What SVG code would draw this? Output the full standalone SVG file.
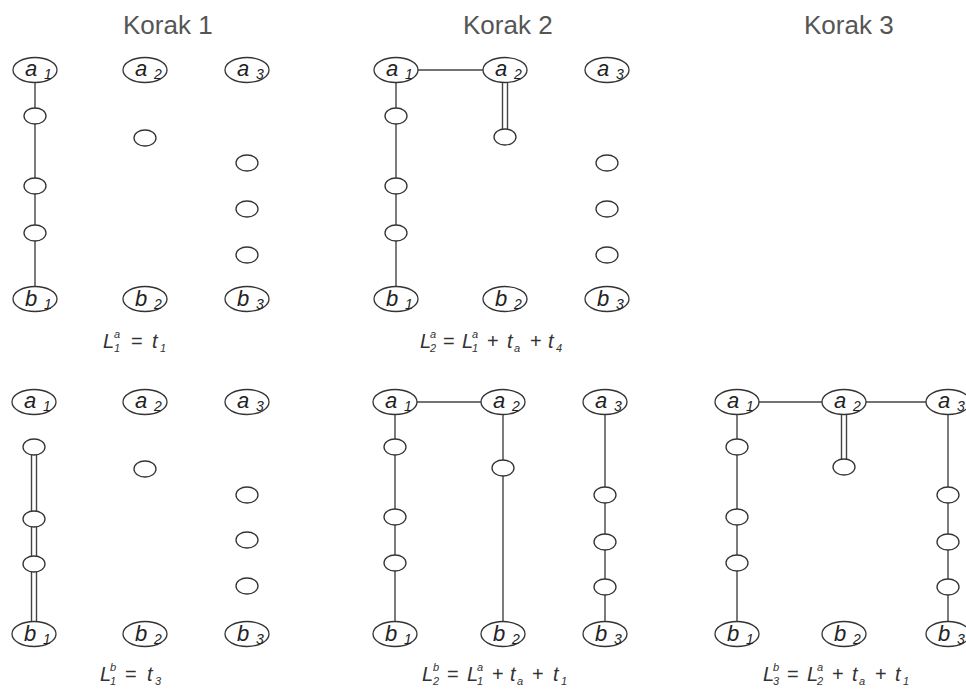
<svg xmlns="http://www.w3.org/2000/svg" width="966" height="689" viewBox="0 0 966 689">
<style>
.n{fill:#fff;stroke:#333;stroke-width:1.3}
.s{fill:#fff;stroke:#333;stroke-width:1.3}
.e{stroke:#444;stroke-width:1.4;fill:none}
.lbl{font-family:"Liberation Sans",Arial,sans-serif;font-style:italic;font-size:22px;fill:#222}
.sub{font-size:14px}
.title{font-family:"Liberation Sans",Arial,sans-serif;font-size:26px;fill:#555}
.f{font-family:"Liberation Sans",Arial,sans-serif;font-style:italic;font-size:20px;fill:#333}
.fs{font-size:11px}
.op{font-style:normal}
</style>
<rect width="966" height="689" fill="#fff"/>
<g id="titles">
<text class="title" x="123" y="34">Korak 1</text>
<text class="title" x="463" y="34">Korak 2</text>
<text class="title" x="804" y="34">Korak 3</text>
</g>
<g id="connectors">
<line class="e" x1="35" y1="82" x2="35" y2="287"/>
<line class="e" x1="418" y1="70" x2="483" y2="70"/>
<line class="e" x1="396" y1="82" x2="396" y2="287"/>
<line class="e" x1="502.5" y1="82" x2="502.5" y2="130"/>
<line class="e" x1="507.5" y1="82" x2="507.5" y2="130"/>
<line class="e" x1="31.5" y1="447" x2="31.5" y2="622"/>
<line class="e" x1="36.5" y1="447" x2="36.5" y2="622"/>
<line class="e" x1="417" y1="402" x2="481" y2="402"/>
<line class="e" x1="395" y1="414" x2="395" y2="622"/>
<line class="e" x1="503" y1="414" x2="503" y2="622"/>
<line class="e" x1="605" y1="414" x2="605" y2="622"/>
<line class="e" x1="759" y1="402" x2="822" y2="402"/>
<line class="e" x1="866" y1="402" x2="926" y2="402"/>
<line class="e" x1="737" y1="414" x2="737" y2="622"/>
<line class="e" x1="841.5" y1="414" x2="841.5" y2="460"/>
<line class="e" x1="846.5" y1="414" x2="846.5" y2="460"/>
<line class="e" x1="948" y1="414" x2="948" y2="622"/>
</g>
<!-- Panel top 1 -->
<g id="t1-a1"><ellipse class="n" cx="35" cy="70" rx="22" ry="12.5"/><text class="lbl" x="25" y="76">a<tspan class="sub" x="44" y="79">1</tspan></text></g>
<g id="t1-a2"><ellipse class="n" cx="145" cy="70" rx="22" ry="12.5"/><text class="lbl" x="135" y="76">a<tspan class="sub" x="154" y="79">2</tspan></text></g>
<g id="t1-a3"><ellipse class="n" cx="247" cy="70" rx="22" ry="12.5"/><text class="lbl" x="237" y="76">a<tspan class="sub" x="256" y="79">3</tspan></text></g>
<g id="t1-b1"><ellipse class="n" cx="35" cy="299" rx="22" ry="12.5"/><text class="lbl" x="25" y="306">b<tspan class="sub" x="44" y="309">1</tspan></text></g>
<g id="t1-b2"><ellipse class="n" cx="145" cy="299" rx="22" ry="12.5"/><text class="lbl" x="135" y="306">b<tspan class="sub" x="154" y="309">2</tspan></text></g>
<g id="t1-b3"><ellipse class="n" cx="247" cy="299" rx="22" ry="12.5"/><text class="lbl" x="237" y="306">b<tspan class="sub" x="256" y="309">3</tspan></text></g>
<g id="t1-s1"><ellipse class="s" cx="35" cy="116" rx="11" ry="8"/></g>
<g id="t1-s2"><ellipse class="s" cx="35" cy="186" rx="11" ry="8"/></g>
<g id="t1-s3"><ellipse class="s" cx="35" cy="233" rx="11" ry="8"/></g>
<g id="t1-s4"><ellipse class="s" cx="145" cy="138" rx="11" ry="8"/></g>
<g id="t1-s5"><ellipse class="s" cx="247" cy="163" rx="11" ry="8"/></g>
<g id="t1-s6"><ellipse class="s" cx="247" cy="209" rx="11" ry="8"/></g>
<g id="t1-s7"><ellipse class="s" cx="247" cy="255" rx="11" ry="8"/></g>
<!-- Panel top 2 -->
<g id="t2-a1"><ellipse class="n" cx="396" cy="70" rx="22" ry="12.5"/><text class="lbl" x="386" y="76">a<tspan class="sub" x="405" y="79">1</tspan></text></g>
<g id="t2-a2"><ellipse class="n" cx="505" cy="70" rx="22" ry="12.5"/><text class="lbl" x="495" y="76">a<tspan class="sub" x="514" y="79">2</tspan></text></g>
<g id="t2-a3"><ellipse class="n" cx="607" cy="70" rx="22" ry="12.5"/><text class="lbl" x="597" y="76">a<tspan class="sub" x="616" y="79">3</tspan></text></g>
<g id="t2-b1"><ellipse class="n" cx="396" cy="299" rx="22" ry="12.5"/><text class="lbl" x="386" y="306">b<tspan class="sub" x="405" y="309">1</tspan></text></g>
<g id="t2-b2"><ellipse class="n" cx="505" cy="299" rx="22" ry="12.5"/><text class="lbl" x="495" y="306">b<tspan class="sub" x="514" y="309">2</tspan></text></g>
<g id="t2-b3"><ellipse class="n" cx="607" cy="299" rx="22" ry="12.5"/><text class="lbl" x="597" y="306">b<tspan class="sub" x="616" y="309">3</tspan></text></g>
<g id="t2-s1"><ellipse class="s" cx="396" cy="116" rx="11" ry="8"/></g>
<g id="t2-s2"><ellipse class="s" cx="396" cy="186" rx="11" ry="8"/></g>
<g id="t2-s3"><ellipse class="s" cx="396" cy="233" rx="11" ry="8"/></g>
<g id="t2-s4"><ellipse class="s" cx="505" cy="137" rx="11" ry="8"/></g>
<g id="t2-s5"><ellipse class="s" cx="607" cy="163" rx="11" ry="8"/></g>
<g id="t2-s6"><ellipse class="s" cx="607" cy="209" rx="11" ry="8"/></g>
<g id="t2-s7"><ellipse class="s" cx="607" cy="255" rx="11" ry="8"/></g>
<!-- Panel bottom 1 -->
<g id="b1-a1"><ellipse class="n" cx="34" cy="402" rx="22" ry="12.5"/><text class="lbl" x="24" y="408">a<tspan class="sub" x="43" y="411">1</tspan></text></g>
<g id="b1-a2"><ellipse class="n" cx="145" cy="402" rx="22" ry="12.5"/><text class="lbl" x="135" y="408">a<tspan class="sub" x="154" y="411">2</tspan></text></g>
<g id="b1-a3"><ellipse class="n" cx="247" cy="402" rx="22" ry="12.5"/><text class="lbl" x="237" y="408">a<tspan class="sub" x="256" y="411">3</tspan></text></g>
<g id="b1-b1"><ellipse class="n" cx="34" cy="634" rx="22" ry="12.5"/><text class="lbl" x="24" y="641">b<tspan class="sub" x="43" y="644">1</tspan></text></g>
<g id="b1-b2"><ellipse class="n" cx="145" cy="634" rx="22" ry="12.5"/><text class="lbl" x="135" y="641">b<tspan class="sub" x="154" y="644">2</tspan></text></g>
<g id="b1-b3"><ellipse class="n" cx="247" cy="634" rx="22" ry="12.5"/><text class="lbl" x="237" y="641">b<tspan class="sub" x="256" y="644">3</tspan></text></g>
<g id="b1-s1"><ellipse class="s" cx="34" cy="447" rx="11" ry="8"/></g>
<g id="b1-s2"><ellipse class="s" cx="34" cy="519" rx="11" ry="8"/></g>
<g id="b1-s3"><ellipse class="s" cx="34" cy="564" rx="11" ry="8"/></g>
<g id="b1-s4"><ellipse class="s" cx="145" cy="469" rx="11" ry="8"/></g>
<g id="b1-s5"><ellipse class="s" cx="247" cy="495" rx="11" ry="8"/></g>
<g id="b1-s6"><ellipse class="s" cx="247" cy="540" rx="11" ry="8"/></g>
<g id="b1-s7"><ellipse class="s" cx="247" cy="586" rx="11" ry="8"/></g>
<!-- Panel bottom 2 -->
<g id="b2-a1"><ellipse class="n" cx="395" cy="402" rx="22" ry="12.5"/><text class="lbl" x="385" y="408">a<tspan class="sub" x="404" y="411">1</tspan></text></g>
<g id="b2-a2"><ellipse class="n" cx="503" cy="402" rx="22" ry="12.5"/><text class="lbl" x="493" y="408">a<tspan class="sub" x="512" y="411">2</tspan></text></g>
<g id="b2-a3"><ellipse class="n" cx="605" cy="402" rx="22" ry="12.5"/><text class="lbl" x="595" y="408">a<tspan class="sub" x="614" y="411">3</tspan></text></g>
<g id="b2-b1"><ellipse class="n" cx="395" cy="634" rx="22" ry="12.5"/><text class="lbl" x="385" y="641">b<tspan class="sub" x="404" y="644">1</tspan></text></g>
<g id="b2-b2"><ellipse class="n" cx="503" cy="634" rx="22" ry="12.5"/><text class="lbl" x="493" y="641">b<tspan class="sub" x="512" y="644">2</tspan></text></g>
<g id="b2-b3"><ellipse class="n" cx="605" cy="634" rx="22" ry="12.5"/><text class="lbl" x="595" y="641">b<tspan class="sub" x="614" y="644">3</tspan></text></g>
<g id="b2-s1"><ellipse class="s" cx="395" cy="447" rx="11" ry="8"/></g>
<g id="b2-s2"><ellipse class="s" cx="395" cy="517" rx="11" ry="8"/></g>
<g id="b2-s3"><ellipse class="s" cx="395" cy="563" rx="11" ry="8"/></g>
<g id="b2-s4"><ellipse class="s" cx="503" cy="468" rx="11" ry="8"/></g>
<g id="b2-s5"><ellipse class="s" cx="605" cy="495" rx="11" ry="8"/></g>
<g id="b2-s6"><ellipse class="s" cx="605" cy="542" rx="11" ry="8"/></g>
<g id="b2-s7"><ellipse class="s" cx="605" cy="587" rx="11" ry="8"/></g>
<!-- Panel bottom 3 -->
<g id="b3-a1"><ellipse class="n" cx="737" cy="402" rx="22" ry="12.5"/><text class="lbl" x="727" y="408">a<tspan class="sub" x="746" y="411">1</tspan></text></g>
<g id="b3-a2"><ellipse class="n" cx="844" cy="402" rx="22" ry="12.5"/><text class="lbl" x="834" y="408">a<tspan class="sub" x="853" y="411">2</tspan></text></g>
<g id="b3-a3"><ellipse class="n" cx="948" cy="402" rx="22" ry="12.5"/><text class="lbl" x="938" y="408">a<tspan class="sub" x="957" y="411">3</tspan></text></g>
<g id="b3-b1"><ellipse class="n" cx="737" cy="634" rx="22" ry="12.5"/><text class="lbl" x="727" y="641">b<tspan class="sub" x="746" y="644">1</tspan></text></g>
<g id="b3-b2"><ellipse class="n" cx="844" cy="634" rx="22" ry="12.5"/><text class="lbl" x="834" y="641">b<tspan class="sub" x="853" y="644">2</tspan></text></g>
<g id="b3-b3"><ellipse class="n" cx="948" cy="634" rx="22" ry="12.5"/><text class="lbl" x="938" y="641">b<tspan class="sub" x="957" y="644">3</tspan></text></g>
<g id="b3-s1"><ellipse class="s" cx="737" cy="447" rx="11" ry="8"/></g>
<g id="b3-s2"><ellipse class="s" cx="737" cy="517" rx="11" ry="8"/></g>
<g id="b3-s3"><ellipse class="s" cx="737" cy="563" rx="11" ry="8"/></g>
<g id="b3-s4"><ellipse class="s" cx="844" cy="467" rx="11" ry="8"/></g>
<g id="b3-s5"><ellipse class="s" cx="948" cy="495" rx="11" ry="8"/></g>
<g id="b3-s6"><ellipse class="s" cx="948" cy="542" rx="11" ry="8"/></g>
<g id="b3-s7"><ellipse class="s" cx="948" cy="587" rx="11" ry="8"/></g>
<!-- Formulas -->
<g id="formulas">
<text class="f" y="348"><tspan x="103">L</tspan><tspan class="fs" x="114" y="338">a</tspan><tspan class="fs" x="114" y="352">1</tspan><tspan class="op" x="131" y="348">=</tspan><tspan x="152">t</tspan><tspan class="fs" x="160" y="352">1</tspan></text>
<text class="f" y="348"><tspan x="420">L</tspan><tspan class="fs" x="430" y="338">a</tspan><tspan class="fs" x="430" y="352">2</tspan><tspan class="op" x="443" y="348">=</tspan><tspan x="462">L</tspan><tspan class="fs" x="472" y="338">a</tspan><tspan class="fs" x="472" y="352">1</tspan><tspan class="op" x="487" y="348">+</tspan><tspan x="507">t</tspan><tspan class="fs" x="514" y="352">a</tspan><tspan class="op" x="530" y="348">+</tspan><tspan x="548">t</tspan><tspan class="fs" x="556" y="352">4</tspan></text>
<text class="f" y="681"><tspan x="100">L</tspan><tspan class="fs" x="110" y="671">b</tspan><tspan class="fs" x="110" y="685">1</tspan><tspan class="op" x="125" y="681">=</tspan><tspan x="147">t</tspan><tspan class="fs" x="155" y="685">3</tspan></text>
<text class="f" y="681"><tspan x="422">L</tspan><tspan class="fs" x="433" y="671">b</tspan><tspan class="fs" x="433" y="685">2</tspan><tspan class="op" x="447" y="681">=</tspan><tspan x="467">L</tspan><tspan class="fs" x="477" y="671">a</tspan><tspan class="fs" x="477" y="685">1</tspan><tspan class="op" x="492" y="681">+</tspan><tspan x="510">t</tspan><tspan class="fs" x="517" y="685">a</tspan><tspan class="op" x="532" y="681">+</tspan><tspan x="553">t</tspan><tspan class="fs" x="561" y="685">1</tspan></text>
<text class="f" y="681"><tspan x="763">L</tspan><tspan class="fs" x="773" y="671">b</tspan><tspan class="fs" x="773" y="685">3</tspan><tspan class="op" x="787" y="681">=</tspan><tspan x="807">L</tspan><tspan class="fs" x="817" y="671">a</tspan><tspan class="fs" x="817" y="685">2</tspan><tspan class="op" x="832" y="681">+</tspan><tspan x="852">t</tspan><tspan class="fs" x="859" y="685">a</tspan><tspan class="op" x="875" y="681">+</tspan><tspan x="895">t</tspan><tspan class="fs" x="903" y="685">1</tspan></text>
</g>
</svg>
